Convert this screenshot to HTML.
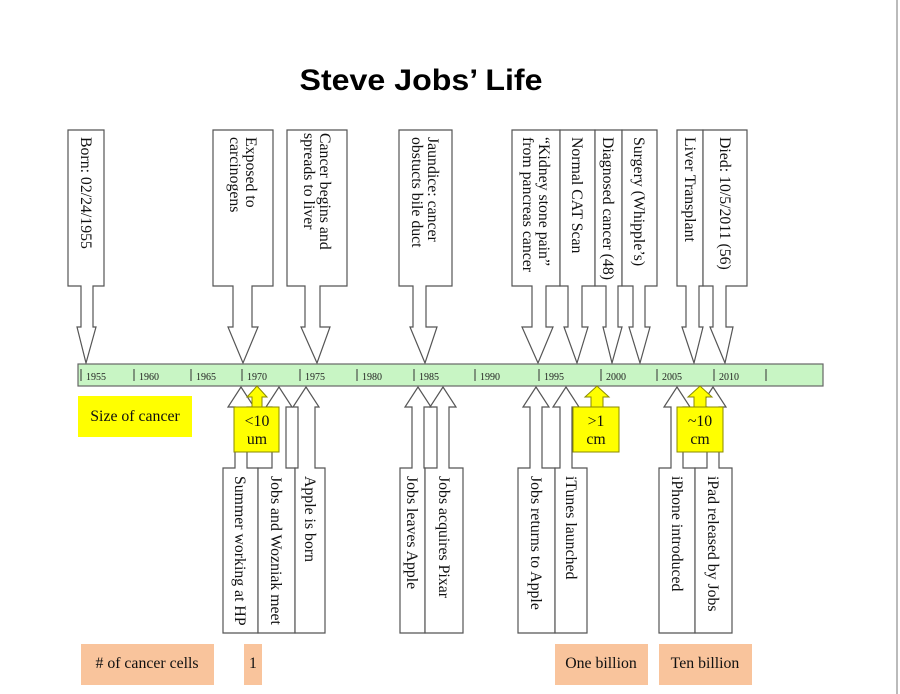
<!DOCTYPE html>
<html><head><meta charset="utf-8"><style>
html,body{margin:0;padding:0;background:#fff;}
svg{display:block;}
.t{font-family:"Liberation Serif",serif;font-size:15.8px;fill:#111;}
.y{font-family:"Liberation Serif",serif;font-size:10px;fill:#222;}
</style></head><body>
<svg width="900" height="694" viewBox="0 0 900 694" xmlns="http://www.w3.org/2000/svg">
<rect width="900" height="694" fill="#fff"/>
<line x1="897" y1="0" x2="897" y2="694" stroke="#bbb" stroke-width="2"/>
<text x="421" y="90" text-anchor="middle" font-family="Liberation Sans, sans-serif" font-weight="bold" font-size="30" fill="#000" textLength="243" lengthAdjust="spacingAndGlyphs">Steve Jobs’ Life</text>

<g fill="#fff" stroke="#555" stroke-width="1.2">
<polygon points="68,130 104,130 104,286 93,286 93,327 96,327 86,363 77,327 81,327 81,286 68,286"/>
<polygon points="213,130 273,130 273,286 252,286 252,327 258,327 243,363 228,327 233,327 233,286 213,286"/>
<polygon points="287,130 347,130 347,286 320,286 320,327 330,327 317,363 301,327 305,327 305,286 287,286"/>
<polygon points="399,130 452,130 452,286 426,286 426,327 437,327 425,363 410,327 413,327 413,286 399,286"/>
<polygon points="512,130 560,130 560,286 546,286 546,327 553,327 538,363 522,327 532,327 532,286 512,286"/>
<polygon points="560,130 595,130 595,286 582,286 582,327 588,327 577,363 564,327 568,327 568,286 560,286"/>
<polygon points="595,130 622,130 622,286 618,286 618,327 622,327 612,363 603,327 606,327 606,286 595,286"/>
<polygon points="622,130 657,130 657,286 645,286 645,327 650,327 640,363 629,327 633,327 633,286 622,286"/>
<polygon points="677,130 703,130 703,286 699,286 699,327 703,327 694,363 682,327 686,327 686,286 677,286"/>
<polygon points="703,130 747,130 747,286 726,286 726,327 733,327 725,363 710,327 713,327 713,286 703,286"/>
<polygon points="223,633 258,633 258,468 247,468 247,407 254,407 241,387 228,407 235,407 235,468 223,468"/>
<polygon points="258,633 295,633 295,468 286,468 286,407 292,407 279,387 266,407 272,407 272,468 258,468"/>
<polygon points="295,633 325,633 325,468 315,468 315,407 319,407 306,387 293,407 298,407 298,468 295,468"/>
<polygon points="400,633 425,633 425,468 424,468 424,407 431,407 418,387 405,407 412,407 412,468 400,468"/>
<polygon points="425,633 463,633 463,468 449,468 449,407 456,407 443,387 430,407 437,407 437,468 425,468"/>
<polygon points="518,633 555,633 555,468 542,468 542,407 549,407 536,387 523,407 530,407 530,468 518,468"/>
<polygon points="555,633 587,633 587,468 572,468 572,407 579,407 566,387 553,407 560,407 560,468 555,468"/>
<polygon points="659,633 695,633 695,468 683,468 683,407 690,407 677,387 664,407 671,407 671,468 659,468"/>
<polygon points="695,633 732,633 732,468 719,468 719,407 726,407 713,387 700,407 707,407 707,468 695,468"/>
</g>

<rect x="78" y="364" width="745" height="22" fill="#c8f5c4" stroke="#666" stroke-width="1.2"/>
<g stroke="#333" stroke-width="1">
<line x1="81" y1="369" x2="81" y2="381"/><line x1="134" y1="369" x2="134" y2="381"/>
<line x1="191" y1="369" x2="191" y2="381"/><line x1="242" y1="369" x2="242" y2="381"/>
<line x1="300" y1="369" x2="300" y2="381"/><line x1="357" y1="369" x2="357" y2="381"/>
<line x1="414" y1="369" x2="414" y2="381"/><line x1="475" y1="369" x2="475" y2="381"/>
<line x1="539" y1="369" x2="539" y2="381"/><line x1="601" y1="369" x2="601" y2="381"/>
<line x1="657" y1="369" x2="657" y2="381"/><line x1="714" y1="369" x2="714" y2="381"/>
<line x1="766" y1="369" x2="766" y2="381"/>
</g>
<g class="y">
<text x="86" y="380">1955</text><text x="139" y="380">1960</text><text x="196" y="380">1965</text>
<text x="247" y="380">1970</text><text x="305" y="380">1975</text><text x="362" y="380">1980</text>
<text x="419" y="380">1985</text><text x="480" y="380">1990</text><text x="544" y="380">1995</text>
<text x="606" y="380">2000</text><text x="662" y="380">2005</text><text x="719" y="380">2010</text>
</g>

<g class="t">
<text transform="translate(81,137) rotate(90)">Born: 02/24/1955</text>
<text transform="translate(246,137) rotate(90)">Exposed to<tspan x="0" dy="16">carcinogens</tspan></text>
<text transform="translate(320,133) rotate(90)">Cancer begins and<tspan x="0" dy="16">spreads to liver</tspan></text>
<text transform="translate(428,137) rotate(90)">Jaundice: cancer<tspan x="0" dy="16">obstucts bile duct</tspan></text>
<text transform="translate(539,137) rotate(90)">“Kidney stone pain”<tspan x="0" dy="16">from pancreas cancer</tspan></text>
<text transform="translate(572,137) rotate(90)">Normal CAT Scan</text>
<text transform="translate(603,137) rotate(90)">Diagnosed cancer (48)</text>
<text transform="translate(634,137) rotate(90)">Surgery (Whipple’s)</text>
<text transform="translate(685,137) rotate(90)">Liver Transplant</text>
<text transform="translate(720,137) rotate(90)">Died: 10/5/2011 (56)</text>
<text transform="translate(235,476) rotate(90)">Summer working at HP</text>
<text transform="translate(271,476) rotate(90)">Jobs and Wozniak meet</text>
<text transform="translate(305,476) rotate(90)">Apple is born</text>
<text transform="translate(407,476) rotate(90)">Jobs leaves Apple</text>
<text transform="translate(439,476) rotate(90)">Jobs acquires Pixar</text>
<text transform="translate(531,476) rotate(90)">Jobs returns to Apple</text>
<text transform="translate(566,476) rotate(90)">iTunes launched</text>
<text transform="translate(672,476) rotate(90)">iPhone introduced</text>
<text transform="translate(708,476) rotate(90)">iPad released by Jobs</text>
</g>

<g fill="#ffff00" stroke="#8a8a00" stroke-width="1">
<polygon points="234,407 279,407 279,452 234,452"/>
<polygon points="252,407 252,397 247,397 257,386 267,397 262,397 262,407"/>
<polygon points="573,407 619,407 619,452 573,452"/>
<polygon points="591,407 591,397 585,397 597,386 609,397 603,397 603,407"/>
<polygon points="677,407 723,407 723,452 677,452"/>
<polygon points="694,407 694,397 688,397 700,386 712,397 706,397 706,407"/>
</g>
<rect x="78" y="396" width="114" height="41" fill="#ffff00"/>
<g class="t" text-anchor="middle">
<text x="135" y="421">Size of cancer</text>
<text x="257" y="426">&lt;10</text><text x="257" y="444">um</text>
<text x="596" y="426">&gt;1</text><text x="596" y="444">cm</text>
<text x="700" y="426">~10</text><text x="700" y="444">cm</text>
</g>

<g fill="#f9c49c">
<rect x="81" y="644" width="133" height="41"/>
<rect x="244" y="644" width="18" height="41"/>
<rect x="555" y="644" width="93" height="41"/>
<rect x="659" y="644" width="93" height="41"/>
</g>
<g class="t" text-anchor="middle">
<text x="147" y="668"># of cancer cells</text>
<text x="253" y="668">1</text>
<text x="601" y="668">One billion</text>
<text x="705" y="668">Ten billion</text>
</g>
</svg>
</body></html>
